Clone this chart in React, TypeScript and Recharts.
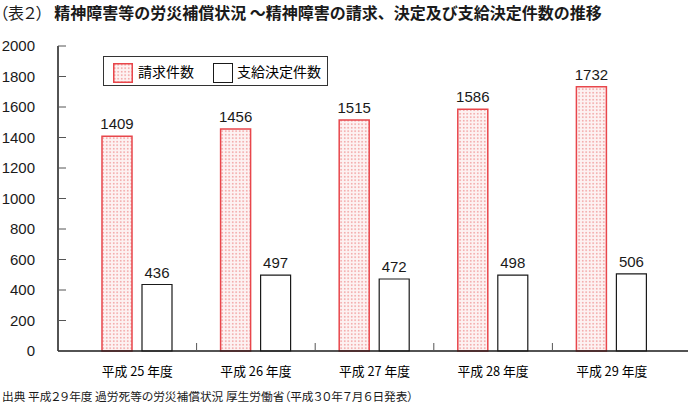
import React from 'react';
import { Bar, BarChart, LabelList, Legend, XAxis, YAxis } from 'recharts';

// 精神障害の請求件数・支給決定件数（平成25〜29年度）
const YEARS = ['平成 25 年度', '平成 26 年度', '平成 27 年度', '平成 28 年度', '平成 29 年度'];
const CLAIMS = [1409, 1456, 1515, 1586, 1732];
const PAID = [436, 497, 472, 498, 506];
const SERIES_NAMES = ['請求件数', '支給決定件数'];
const Y_TICKS = [0, 200, 400, 600, 800, 1000, 1200, 1400, 1600, 1800, 2000];

const TITLE_NO = '（表２）';
const TITLE = '精神障害等の労災補償状況 ～精神障害の請求、決定及び支給決定件数の推移';
const SOURCE = '出典 平成２９年度 過労死等の労災補償状況 厚生労働省（平成３０年７月６日発表）';

const data = YEARS.map((year, i) => ({ year, claims: CLAIMS[i], paid: PAID[i] }));

// chart geometry
const W = 690;
const H = 407;
const MARGIN = { top: 46, right: 2, bottom: 32, left: 0 };
const Y_AXIS_W = 58;
const X_PAD = { left: 20, right: 17 };
const BAND = (W - MARGIN.left - MARGIN.right - Y_AXIS_W - X_PAD.left - X_PAD.right) / YEARS.length;

const RED = '#e8464b';
const INK = '#1a1a1a';
const NUM_FONT = "'Liberation Sans', Arial, 'Noto Sans CJK JP', sans-serif";
const JP_FONT = "'Noto Sans CJK JP', 'Liberation Sans', sans-serif";
const PALT = { fontFeatureSettings: '"palt"' };

function DotPattern({ id }: { id: string }) {
  return (
    <pattern id={id} width="3.5" height="3.5" patternUnits="userSpaceOnUse">
      <rect width="3.5" height="3.5" fill="#fdf2f2" />
      <rect x="1" y="1" width="1.4" height="1.4" fill="#ef8f8f" />
    </pattern>
  );
}

// 年度ラベル＋年度の境目の短い目盛り（先頭以外）
function YearTick({ x, y, payload, index }: any) {
  const bx = x - BAND / 2;
  return (
    <g>
      {index > 0 && <line x1={bx} x2={bx} y1={y} y2={y - 8} stroke="#555" strokeWidth={1} />}
      <text x={x} y={y} dy={25} textAnchor="middle" fontSize={12.8} fill="#000" fontFamily={JP_FONT} style={PALT}>
        {payload.value}
      </text>
    </g>
  );
}

function LegendBox() {
  return (
    <div
      style={{
        position: 'relative',
        width: 225,
        height: 30,
        border: '1px solid #333',
        boxSizing: 'border-box',
        background: '#fff',
        fontFamily: JP_FONT,
        fontSize: 14,
        color: '#000',
      }}
    >
      <svg width={20} height={20} style={{ position: 'absolute', left: 9, top: 6 }}>
        <defs>
          <DotPattern id="legendDots" />
        </defs>
        <rect x={0.75} y={0.75} width={18.5} height={18.5} fill="url(#legendDots)" stroke={RED} strokeWidth={1.5} />
      </svg>
      <span style={{ position: 'absolute', left: 34, top: 5, lineHeight: '18px' }}>{SERIES_NAMES[0]}</span>
      <svg width={20} height={20} style={{ position: 'absolute', left: 109, top: 6 }}>
        <rect x={0.5} y={0.5} width={19} height={19} fill="#fff" stroke={INK} strokeWidth={1} />
      </svg>
      <span style={{ position: 'absolute', left: 133, top: 5, lineHeight: '18px' }}>{SERIES_NAMES[1]}</span>
    </div>
  );
}

export default function App() {
  return (
    <div style={{ position: 'relative', width: W, height: H, background: '#fff', overflow: 'hidden' }}>
      <style>{'body{margin:0}'}</style>
      <div
        style={{
          position: 'absolute',
          left: 0,
          top: 3,
          fontFamily: JP_FONT,
          fontSize: 16,
          lineHeight: '18px',
          color: INK,
          whiteSpace: 'nowrap',
        }}
      >
        <span style={{ fontWeight: 400, ...PALT }}>{TITLE_NO}</span>
        <span style={{ fontWeight: 700, marginLeft: 10 }}>{TITLE}</span>
      </div>

      <BarChart width={W} height={H} data={data} margin={MARGIN} barSize={30} barGap={10}>
        <defs>
          <DotPattern id="barDots" />
        </defs>
        <XAxis
          dataKey="year"
          padding={X_PAD}
          height={24}
          axisLine={{ stroke: INK, strokeWidth: 1.5 }}
          tickLine={false}
          tickSize={0}
          tickMargin={0}
          tick={<YearTick />}
          interval={0}
        />
        <XAxis xAxisId="top" orientation="top" dataKey="year" height={0} tick={false} tickLine={false} axisLine={{ stroke: INK, strokeWidth: 1.5 }} />
        <YAxis
          domain={[0, 2000]}
          ticks={Y_TICKS}
          width={Y_AXIS_W}
          axisLine={{ stroke: INK, strokeWidth: 1.5 }}
          tickLine={{ stroke: '#555', strokeWidth: 1 }}
          tickSize={-8}
          tickMargin={31}
          tick={{ fontSize: 15, fill: INK, fontFamily: NUM_FONT }}
          interval={0}
        />
        <YAxis yAxisId="right" orientation="right" domain={[0, 1]} width={0} tick={false} tickLine={false} axisLine={{ stroke: INK, strokeWidth: 1.5 }} />
        <Legend
          layout="vertical"
          align="center"
          verticalAlign="middle"
          content={<LegendBox />}
          wrapperStyle={{ left: 103, top: 56, width: 225, height: 30 }}
        />
        <Bar dataKey="claims" name={SERIES_NAMES[0]} fill="url(#barDots)" stroke={RED} strokeWidth={1.5} isAnimationActive={false}>
          <LabelList dataKey="claims" position="top" offset={7} fill={INK} fontSize={15} fontFamily={NUM_FONT} />
        </Bar>
        <Bar dataKey="paid" name={SERIES_NAMES[1]} fill="#fff" stroke={INK} strokeWidth={1.2} isAnimationActive={false}>
          <LabelList dataKey="paid" position="top" offset={7} fill={INK} fontSize={15} fontFamily={NUM_FONT} />
        </Bar>
      </BarChart>

      <div
        style={{
          position: 'absolute',
          left: 2,
          top: 389,
          fontFamily: JP_FONT,
          fontSize: 11.7,
          lineHeight: '14px',
          color: INK,
          whiteSpace: 'nowrap',
          ...PALT,
        }}
      >
        {SOURCE}
      </div>
    </div>
  );
}
